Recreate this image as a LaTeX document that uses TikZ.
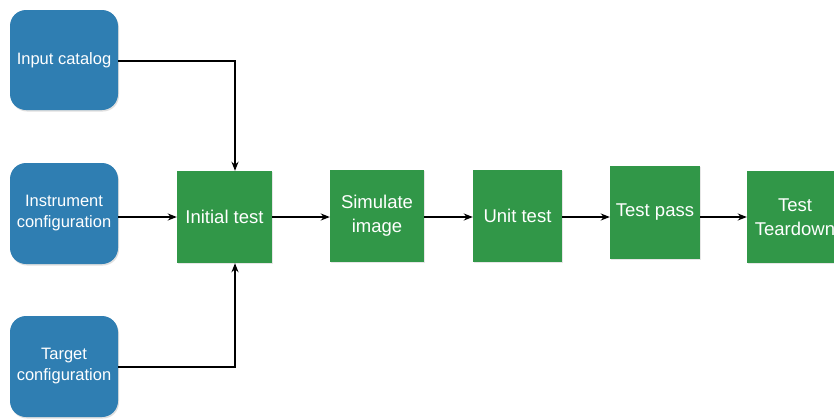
\documentclass[tikz,border=0pt]{standalone}
\usepackage{fontspec}
\setmainfont{Liberation Sans}
\usetikzlibrary{arrows.meta,shadows}
\definecolor{boxblue}{RGB}{47,126,178}
\definecolor{boxgreen}{RGB}{49,151,72}
\tikzset{
  inbox/.style={fill=boxblue, rounded corners=16pt, text=white, align=center, font=\fontsize{16.5}{21}\selectfont, inner sep=0pt, drop shadow={shadow xshift=1pt, shadow yshift=-1.5pt, opacity=0.25}},
  stepbox/.style={fill=boxgreen, text=white, align=center, font=\fontsize{18.5}{24}\selectfont, inner sep=0pt, drop shadow={shadow xshift=1pt, shadow yshift=-1pt, opacity=0.2}},
  conn/.style={draw=black, line width=1.6pt, -{Stealth[length=9pt,width=7pt]}},
}
\begin{document}
\begin{tikzpicture}[x=1pt,y=-1pt]
\useasboundingbox (0,0) rectangle (834,418);
\clip (0,0) rectangle (834,418);
% blue inputs
\node[inbox, minimum width=108pt, minimum height=100pt] (cat) at (64,60) {Input catalog};
\node[inbox, minimum width=108pt, minimum height=101pt] (inst) at (64,213.5) {Instrument\\configuration};
\node[inbox, minimum width=108pt, minimum height=101pt] (targ) at (64,366.5) {Target\\configuration};
% green steps
\node[stepbox, minimum width=95pt, minimum height=92pt] (init) at (224.5,217) {Initial test};
\node[stepbox, minimum width=94pt, minimum height=92pt] (sim) at (377,216) {Simulate\\image};
\node[stepbox, minimum width=89pt, minimum height=92pt] (unit) at (517.5,216) {Unit test};
\node[stepbox, minimum width=90pt, minimum height=93pt] (pass) at (655,212.5) {Test pass};
\node[stepbox, minimum width=96pt, minimum height=92pt] (tear) at (795,217) {Test\\Teardown};
% connectors
\coordinate (c1) at (235,61);
\coordinate (c2) at (235,367);
\draw[conn] (cat.east |- 0,61) -- (c1) -- (c1 |- init.north);
\draw[conn] (targ.east |- 0,367) -- (c2) -- (c2 |- init.south);
\draw[conn] (inst.east |- 0,217) -- (init.west |- 0,217);
\draw[conn] (init.east |- 0,217) -- (sim.west |- 0,217);
\draw[conn] (sim.east |- 0,217) -- (unit.west |- 0,217);
\draw[conn] (unit.east |- 0,217) -- (pass.west |- 0,217);
\draw[conn] (pass.east |- 0,217) -- (tear.west |- 0,217);
\end{tikzpicture}
\end{document}
